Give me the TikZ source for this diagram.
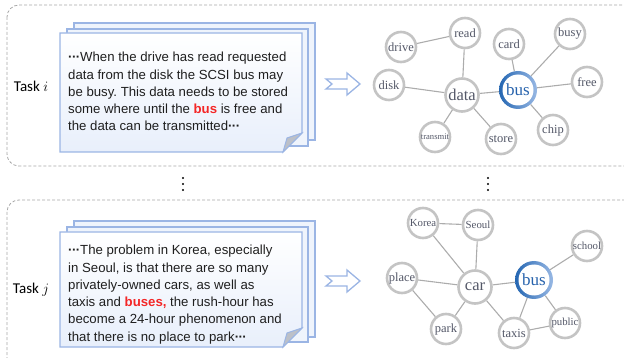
\documentclass[tikz,border=0pt]{standalone}
\usepackage{fontspec}
\setmainfont{Liberation Sans}
\newfontfamily\taskfont{Carlito}
\newfontfamily\wordfont{Liberation Serif}
\usetikzlibrary{shadows,backgrounds}

\definecolor{boxgray}{RGB}{168,168,168}
\definecolor{pageblue}{RGB}{155,181,228}
\definecolor{pagetint}{RGB}{232,239,251}
\definecolor{foldgray}{RGB}{188,192,200}
\definecolor{ringgray}{RGB}{196,196,196}
\definecolor{wordgray}{RGB}{84,88,104}
\definecolor{edgegray}{RGB}{172,172,172}
\definecolor{busdark}{RGB}{36,102,178}
\definecolor{buslight}{RGB}{152,184,228}
\definecolor{busblue}{RGB}{38,98,172}
\definecolor{hotred}{RGB}{244,38,38}

\newcommand{\midots}{{\bfseries\char"00B7\kern-0.6pt\char"00B7\kern-0.6pt\char"00B7}}
\frenchspacing

\tikzset{
  taskbox/.style={draw=boxgray, dash pattern=on 3pt off 2pt, line width=0.8pt, rounded corners=12pt},
  page/.style={draw=pageblue, line width=1.4pt, fill=pagetint!70},
  para/.style={anchor=north west, inner sep=0pt, align=left, text=black!88,
    font=\fontsize{13.2}{17.25}\selectfont},
  tasklabel/.style={font=\taskfont\fontsize{15}{15}\selectfont},
  word/.style={circle, draw=ringgray, line width=2.6pt, fill=white, minimum size=30pt,
    inner sep=0pt, text=wordgray, font=\wordfont\fontsize{12.5}{12.5}\selectfont,
    drop shadow={opacity=0.18, shadow xshift=0.7pt, shadow yshift=-0.7pt}},
  smallword/.style={word, font=\wordfont\fontsize{10.8}{10.8}\selectfont},
  bigword/.style={word, minimum size=33pt, font=\wordfont\fontsize{16.5}{16.5}\selectfont},
  hub/.style={circle, minimum size=38pt, inner sep=0pt, left color=busdark, right color=buslight,
    label={[circle, fill=white, minimum size=31pt, inner sep=0pt, text=busblue,
      font=\wordfont\fontsize{17}{17}\selectfont]center:bus}},
  link/.style={draw=edgegray, line width=1.1pt},
  notch/.style={draw=pageblue, line width=1.3pt, fill=white, line join=miter},
}

\begin{document}
\begin{tikzpicture}[x=1pt,y=1pt,yscale=-1]
\useasboundingbox (0,0) rectangle (624,358);
\clip (0,0) rectangle (624,358);

%Shape: dashed task frames
\draw[taskbox] (7,5) rectangle (650,166);
\draw[taskbox] (7,200) rectangle (650,380);

% Text Node
\node[tasklabel] (taski) at (31,86) {Task $i$};
\node[tasklabel] (taskj) at (31,290) {Task $j$};

%Shape: stacked pages, task i
\filldraw[page] (74,23) rectangle (315,140);
\filldraw[page] (67,29) rectangle (308,146);
\draw[page, top color=white, bottom color=pagetint] (60,33) -- (302,33) -- (302,133) -- (283,152) -- (60,152) -- cycle;
\filldraw[draw=pageblue, line width=1pt, fill=foldgray] (302,133) -- (283,152) -- (287,138) -- cycle;

%Shape: stacked pages, task j
\filldraw[page] (74,221) rectangle (315,337);
\filldraw[page] (67,227) rectangle (308,342);
\draw[page, top color=white, bottom color=pagetint] (60,232) -- (302,232) -- (302,328) -- (283,347) -- (60,347) -- cycle;
\filldraw[draw=pageblue, line width=1pt, fill=foldgray] (302,328) -- (283,347) -- (287,333) -- cycle;

% Text Node
\node[para] (texti) at (68,52) {\midots When the drive has read requested\\
data from the disk the SCSI bus may\\
be busy. This data needs to be stored\\
some where until the \textbf{\textcolor{hotred}{bus}} is free and\\
the data can be transmitted\midots};
% Text Node
\node[para] (textj) at (68,245) {\midots The problem in Korea, especially\\
in Seoul, is that there are so many\\
privately-owned cars, as well as\\
taxis and \textbf{\textcolor{hotred}{buses,}} the rush-hour has\\
become a 24-hour phenomenon and\\
that there is no place to park\midots};

%Shape: open arrows
\filldraw[notch] (326,79) -- (347,79) -- (347,73) -- (360,84) -- (347,95) -- (347,89) -- (326,89) -- (332,84) -- cycle;
\filldraw[notch] (326,276) -- (347,276) -- (347,270) -- (360,281) -- (347,292) -- (347,286) -- (326,286) -- (332,281) -- cycle;

%Shape: vertical dots
\foreach \x in {183,488}
  \foreach \y in {178,184,190}
    \fill (\x,\y) circle (1.2);

% word graph, task i
\node[word] (drive) at (401,47) {drive};
\node[word] (read) at (465,33) {read};
\node[word] (disk) at (389,85) {disk};
\node[bigword] (data) at (462,95) {data};
\node[word, font=\wordfont\fontsize{8.6}{8.6}\selectfont] (transmit) at (435,137) {transmit};
\node[word] (store) at (501,139) {store};
\node[word] (card) at (509,44) {card};
\node[hub] (busi) at (518,90) {};
\node[word] (busy) at (570,34) {busy};
\node[word] (free) at (587,82) {free};
\node[word] (chip) at (553,130) {chip};

% word graph, task j
\node[smallword] (korea) at (423,223) {Korea};
\node[smallword] (seoul) at (478,225) {Seoul};
\node[smallword] (school) at (587,246) {school};
\node[word] (place) at (402,278) {place};
\node[bigword] (car) at (475,287) {car};
\node[hub] (busj) at (534,280) {};
\node[word] (park) at (446,329) {park};
\node[word] (taxis) at (514,333) {taxis};
\node[smallword] (public) at (565,323) {public};

\begin{scope}[on background layer]
\draw[link] (drive) -- (read);
\draw[link] (read) -- (data);
\draw[link] (disk) -- (data);
\draw[link] (data) -- (transmit);
\draw[link] (data) -- (store);
\draw[link] (data) -- (busi);
\draw[link] (busi) -- (card);
\draw[link] (busi) -- (busy);
\draw[link] (busi) -- (free);
\draw[link] (busi) -- (chip);
\draw[link] (korea) -- (seoul);
\draw[link] (korea) -- (car);
\draw[link] (seoul) -- (car);
\draw[link] (place) -- (car);
\draw[link] (place) -- (park);
\draw[link] (car) -- (park);
\draw[link] (car) -- (busj);
\draw[link] (car) -- (taxis);
\draw[link] (busj) -- (taxis);
\draw[link] (busj) -- (public);
\draw[link] (busj) -- (school);
\draw[link] (taxis) -- (public);
\end{scope}
\end{tikzpicture}
\end{document}
